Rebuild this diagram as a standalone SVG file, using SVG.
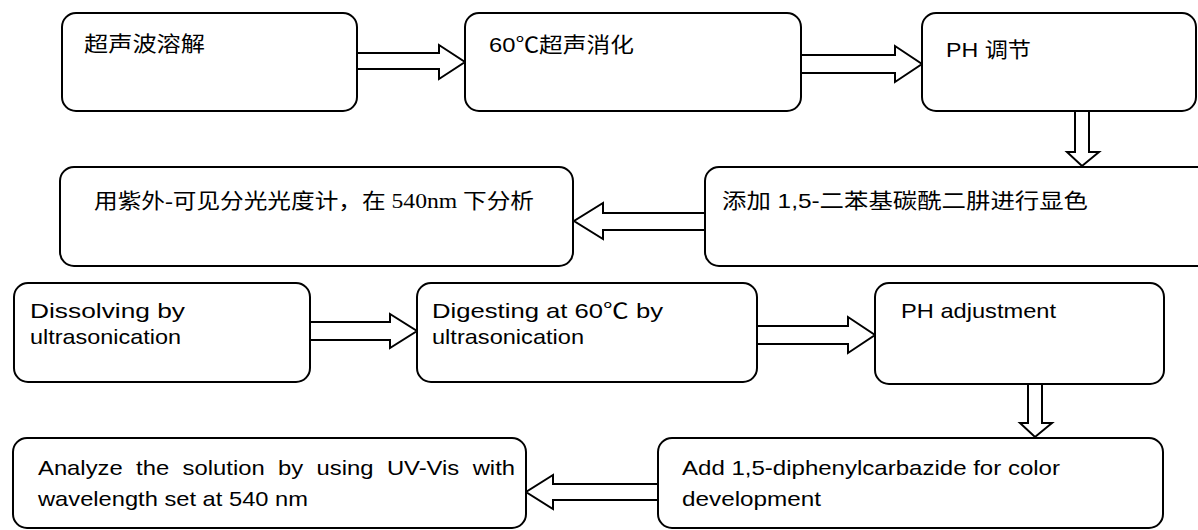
<svg xmlns="http://www.w3.org/2000/svg" width="1198" height="530" viewBox="0 0 1198 530">
<style>
.box{fill:#fff;stroke:#000;stroke-width:2}
.arr{fill:#fff;stroke:#000;stroke-width:2;stroke-linejoin:miter}
.en{font-family:"Liberation Sans",Arial,sans-serif;font-size:21px;fill:#000}
.cn{font-family:"Liberation Sans","Noto Sans CJK SC",sans-serif;font-size:21px;fill:#000}
.cs{font-family:"Liberation Serif","Noto Sans CJK SC",serif;font-size:21px;fill:#000}
</style>
<rect width="1198" height="530" fill="#fff"/>
<g id="connectors">
<path class="arr" d="M357,53 H439 V45 L465,62 L439,79 V69 H357"/>
<path class="arr" d="M801,55 H895 V46 L922,64 L895,82 V73 H801"/>
<path class="arr" d="M1075,112 V152 H1067 L1082,166 L1099,152 H1089 V112"/>
<path class="arr" d="M705,213 H603 V203 L574,221 L603,239 V230 H705"/>
<path class="arr" d="M310,322 H390 V314 L417,331 L390,348 V340 H310"/>
<path class="arr" d="M757,326 H848 V317 L875,335 L848,353 V344 H757"/>
<path class="arr" d="M1028,384 V423 H1020 L1035,437 L1052,423 H1042 V384"/>
<path class="arr" d="M658,484 H553 V475 L526,492 L553,509 V500 H658"/>
</g>
<g id="n1"><rect class="box" x="62" y="13" width="295" height="98" rx="14"/>
<text class="cn" x="84" y="51" textLength="121" lengthAdjust="spacingAndGlyphs">超声波溶解</text></g>
<g id="n2"><rect class="box" x="465" y="13" width="336" height="98" rx="14"/>
<text class="cn" x="489" y="52" textLength="145" lengthAdjust="spacingAndGlyphs">60℃超声消化</text></g>
<g id="n3"><rect class="box" x="922" y="13" width="274" height="98" rx="14"/>
<text class="cn" x="946" y="57" textLength="85" lengthAdjust="spacingAndGlyphs">PH 调节</text></g>
<g id="n4"><rect class="box" x="705" y="167" width="510" height="99" rx="14"/>
<text class="cn" x="722" y="208" textLength="366" lengthAdjust="spacingAndGlyphs">添加 1,5-二苯基碳酰二肼进行显色</text></g>
<g id="n5"><rect class="box" x="60" y="167" width="513" height="99" rx="14"/>
<text class="cs" x="94" y="208" textLength="440" lengthAdjust="spacingAndGlyphs">用紫外-可见分光光度计，在 540nm 下分析</text></g>
<g id="n6"><rect class="box" x="14" y="283" width="296" height="99" rx="14"/>
<text class="en" x="30" y="318" textLength="155" lengthAdjust="spacingAndGlyphs">Dissolving by</text>
<text class="en" x="30" y="344" textLength="151" lengthAdjust="spacingAndGlyphs">ultrasonication</text></g>
<g id="n7"><rect class="box" x="417" y="283" width="340" height="99" rx="14"/>
<text class="en" x="432" y="318" textLength="231" lengthAdjust="spacingAndGlyphs">Digesting at 60<tspan class="cs">℃</tspan>  by</text>
<text class="en" x="432" y="344" textLength="152" lengthAdjust="spacingAndGlyphs">ultrasonication</text></g>
<g id="n8"><rect class="box" x="875" y="283" width="289" height="101" rx="14"/>
<text class="en" x="901" y="318" textLength="155" lengthAdjust="spacingAndGlyphs">PH adjustment</text></g>
<g id="n9"><rect class="box" x="658" y="438" width="505" height="90" rx="14"/>
<text class="en" x="682" y="475" textLength="378" lengthAdjust="spacingAndGlyphs">Add 1,5-diphenylcarbazide for color</text>
<text class="en" x="682" y="506" textLength="139" lengthAdjust="spacingAndGlyphs">development</text></g>
<g id="n10"><rect class="box" x="13" y="438" width="513" height="90" rx="14"/>
<text class="en" x="38" y="475" word-spacing="6" textLength="477" lengthAdjust="spacingAndGlyphs">Analyze the solution by using UV-Vis with</text>
<text class="en" x="38" y="506" textLength="270" lengthAdjust="spacingAndGlyphs">wavelength set at 540 nm</text></g>
</svg>
